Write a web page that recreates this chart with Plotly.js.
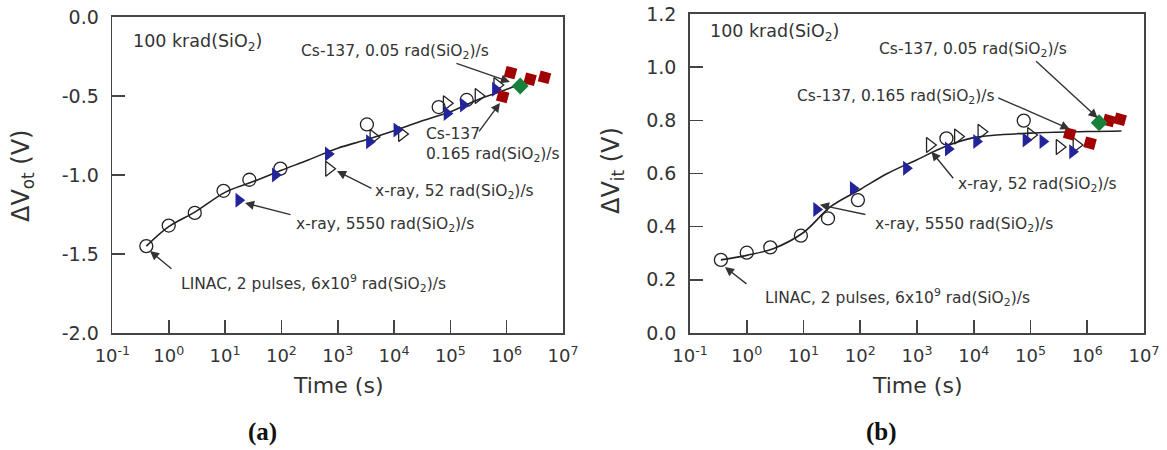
<!DOCTYPE html>
<html>
<head>
<meta charset="utf-8">
<script src="https://cdn.plot.ly/plotly-3.0.1.min.js"></script>
<style>html,body{margin:0;padding:0;background:#fff}#chart{width:1167px;height:450px}</style>
</head>
<body>
<div id="chart"></div>
<script>
// ---------- tick labels ----------
const xTickVals = [0.1, 1, 10, 100, 1000, 1e4, 1e5, 1e6, 1e7];
const xTickText = ['10<sup>-1</sup>','10<sup>0</sup>','10<sup>1</sup>','10<sup>2</sup>','10<sup>3</sup>','10<sup>4</sup>','10<sup>5</sup>','10<sup>6</sup>','10<sup>7</sup>'];
const yTickValsA = [-2, -1.5, -1, -0.5, 0];
const yTickTextA = ['-2.0', '-1.5', '-1.0', '-0.5', '0.0'];
const yTickValsB = [0, 0.2, 0.4, 0.6, 0.8, 1.0, 1.2];
const yTickTextB = ['0.0', '0.2', '0.4', '0.6', '0.8', '1.0', '1.2'];

// ---------- panel (a): ΔVot ----------
const tLinacA = [0.4, 1.0, 2.9, 9.4, 27, 96, 3300, 62000, 195000];
const vLinacA = [-1.45, -1.32, -1.24, -1.10, -1.03, -0.96, -0.68, -0.57, -0.525];
const tX5550A = [17.5, 78, 680, 3650, 11200, 87000, 170000, 630000];
const vX5550A = [-1.16, -1.00, -0.867, -0.79, -0.715, -0.61, -0.557, -0.458];
const tX52A = [700, 4300, 13800, 86000, 316000, 680000];
const vX52A = [-0.96, -0.76, -0.74, -0.546, -0.50, -0.43];
const tCs165A = [8.5e5, 1.17e6, 2.6e6, 4.7e6];
const vCs165A = [-0.504, -0.352, -0.394, -0.382];
const tCs05A = [1.74e6];
const vCs05A = [-0.437];
const tFitA = [0.4, 1, 3, 10, 30, 100, 300, 1000, 3000, 1e4, 3e4, 1e5, 3e5, 1e6, 2.5e6];
const vFitA = [-1.45, -1.327, -1.232, -1.11, -1.045, -0.97, -0.905, -0.83, -0.78, -0.72, -0.66, -0.60, -0.525, -0.458, -0.40];

// ---------- panel (b): ΔVit ----------
const tLinacB = [0.35, 1, 2.6, 9, 27, 91, 3300, 76000];
const vLinacB = [0.275, 0.302, 0.322, 0.366, 0.431, 0.50, 0.732, 0.799];
const tX5550B = [17, 75, 650, 3550, 11200, 83000, 165000, 550000];
const vX5550B = [0.465, 0.544, 0.62, 0.692, 0.72, 0.726, 0.72, 0.682];
const tX52B = [1680, 5250, 13600, 102000, 325000, 645000];
const vX52B = [0.707, 0.739, 0.757, 0.745, 0.70, 0.707];
const tCs165B = [4.9e5, 1.12e6, 2.4e6, 3.8e6];
const vCs165B = [0.749, 0.714, 0.799, 0.804];
const tCs05B = [1.62e6];
const vCs05B = [0.791];
const tFitB = [0.35, 1, 3, 10, 30, 100, 300, 1000, 3000, 1e4, 1e5, 1e6, 4e6];
const vFitB = [0.275, 0.292, 0.318, 0.378, 0.475, 0.54, 0.60, 0.652, 0.70, 0.735, 0.752, 0.758, 0.76];

// ---------- styles ----------
const W = 1167, H = 450;
const FONT = 'DejaVu Sans';
const TXT = '#333';
const BLUE = '#23239a', RED = '#a00000', GREEN = '#17803a', INK = '#222';

function panel(xa, ya, s) {
  return [
    {x: s.tFit, y: s.vFit, xaxis: xa, yaxis: ya, mode: 'lines', type: 'scatter',
     line: {color: INK, width: 1.6, shape: 'spline', smoothing: 1}, hoverinfo: 'skip'},
    {x: s.tLinac, y: s.vLinac, xaxis: xa, yaxis: ya, mode: 'markers', type: 'scatter',
     marker: {symbol: 'circle-open', size: 13, color: INK, line: {width: 1.3}}},
    {x: s.tX52, y: s.vX52, xaxis: xa, yaxis: ya, mode: 'markers', type: 'scatter',
     marker: {symbol: 'triangle-right-open', size: 13, color: INK, line: {width: 1.3}}},
    {x: s.tX5550, y: s.vX5550, xaxis: xa, yaxis: ya, mode: 'markers', type: 'scatter',
     marker: {symbol: 'triangle-right', size: 13, color: BLUE, line: {width: 0}}},
    {x: s.tCs165, y: s.vCs165, xaxis: xa, yaxis: ya, mode: 'markers', type: 'scatter',
     marker: {symbol: 'square', size: 11, color: RED, angle: 15, line: {width: 0}}},
    {x: s.tCs05, y: s.vCs05, xaxis: xa, yaxis: ya, mode: 'markers', type: 'scatter',
     marker: {symbol: 'diamond', size: 13, color: GREEN, line: {width: 0}}}
  ];
}

const data = [].concat(
  panel('x', 'y', {tFit: tFitA, vFit: vFitA, tLinac: tLinacA, vLinac: vLinacA, tX52: tX52A, vX52: vX52A,
    tX5550: tX5550A, vX5550: vX5550A, tCs165: tCs165A, vCs165: vCs165A, tCs05: tCs05A, vCs05: vCs05A}),
  panel('x2', 'y2', {tFit: tFitB, vFit: vFitB, tLinac: tLinacB, vLinac: vLinacB, tX52: tX52B, vX52: vX52B,
    tX5550: tX5550B, vX5550: vX5550B, tCs165: tCs165B, vCs165: vCs165B, tCs05: tCs05B, vCs05: vCs05B})
);

function xAxis(domain, anchor) {
  return {type: 'log', domain: domain, anchor: anchor, range: [-1, 7],
    tickmode: 'array', tickvals: xTickVals, ticktext: xTickText,
    ticks: 'inside', ticklen: 13, tickwidth: 1.6, tickcolor: '#444',
    showline: true, mirror: true, linecolor: '#444', linewidth: 1.8,
    showgrid: false, zeroline: false, ticklabelstandoff: 6,
    tickfont: {family: FONT, size: 18, color: TXT}};
}
function yAxis(domain, anchor, range, vals, text) {
  return {domain: domain, anchor: anchor, range: range,
    tickmode: 'array', tickvals: vals, ticktext: text,
    ticks: 'inside', ticklen: 13, tickwidth: 1.6, tickcolor: '#444',
    showline: true, mirror: true, linecolor: '#444', linewidth: 1.8,
    showgrid: false, zeroline: false, ticklabelstandoff: 8,
    tickfont: {family: FONT, size: 19, color: TXT}};
}

// helpers: pixel -> paper
const px = v => v / W, py = v => 1 - v / H;
const sio2 = 'rad(SiO<sub>2</sub>)/s';

function label(text, x, y, size, extra) {
  return Object.assign({text: text, xref: 'paper', yref: 'paper', x: px(x), y: py(y),
    xanchor: 'left', yanchor: 'middle', showarrow: false, align: 'left',
    font: {family: FONT, size: size, color: TXT}}, extra || {});
}
function arrow(xa, ya, lx, v, ax, ay) {
  return {text: '', xref: xa, yref: ya, x: lx, y: v, ax: ax, ay: ay, showarrow: true,
    arrowhead: 2, arrowsize: 1.3, arrowwidth: 1.4, arrowcolor: '#333', standoff: 0};
}

const annotations = [
  // panel (a) texts
  label('100 krad(SiO<sub>2</sub>)', 131, 42, 17.5),
  label('Cs-137, 0.05 ' + sio2, 299, 52, 15.5),
  label('Cs-137<br>0.165 ' + sio2, 424, 145, 15.5),
  label('x-ray, 52 ' + sio2, 373, 192, 15.5),
  label('x-ray, 5550 ' + sio2, 294, 225, 15.5),
  label('LINAC, 2 pulses, 6x10<sup>9</sup> ' + sio2, 179, 283, 15.5),
  // panel (a) arrows
  arrow('x', 'y', 6.058, -0.411, -55, -19),
  arrow('x', 'y', 5.881, -0.544, -22, 30),
  arrow('x', 'y', 2.987, -0.975, 36, 18),
  arrow('x', 'y', 1.354, -1.177, 47, 12),
  arrow('x', 'y', -0.333, -1.481, 23, 19),
  // panel (b) texts
  label('100 krad(SiO<sub>2</sub>)', 708, 32, 17.5),
  label('Cs-137, 0.05 ' + sio2, 877, 50, 15.5),
  label('Cs-137, 0.165 ' + sio2, 795, 97, 15.5),
  label('x-ray, 52 ' + sio2, 956, 185, 15.5),
  label('x-ray, 5550 ' + sio2, 873, 225, 15.5),
  label('LINAC, 2 pulses, 6x10<sup>9</sup> ' + sio2, 763, 297, 15.5),
  // panel (b) arrows
  arrow('x2', 'y2', 6.183, 0.809, -63, -58),
  arrow('x2', 'y2', 5.69, 0.767, -73, -32),
  arrow('x2', 'y2', 3.255, 0.682, 23, 28),
  arrow('x2', 'y2', 1.289, 0.482, 47, 10),
  arrow('x2', 'y2', -0.384, 0.248, 23, 18),
  // axis titles
  label('Time (s)', 337.7, 385, 22, {xanchor: 'center'}),
  label('Time (s)', 917, 385, 22, {xanchor: 'center'}),
  label('ΔV<sub>ot</sub> (V)', 22, 176, 24, {xanchor: 'center', textangle: -90}),
  label('ΔV<sub>it</sub> (V)', 612, 171, 24, {xanchor: 'center', textangle: -90}),
  // panel labels
  label('<b>(a)</b>', 262, 432, 25, {xanchor: 'center', font: {family: 'Liberation Serif', size: 25, color: '#111'}}),
  label('<b>(b)</b>', 881, 432, 25, {xanchor: 'center', font: {family: 'Liberation Serif', size: 25, color: '#111'}})
];

const layout = {
  width: W, height: H,
  margin: {l: 0, r: 0, t: 0, b: 0},
  paper_bgcolor: '#fff', plot_bgcolor: '#fff',
  showlegend: false,
  font: {family: FONT, color: TXT},
  xaxis: xAxis([112.4 / W, 563 / W], 'y'),
  yaxis: yAxis([(H - 333) / H, (H - 17) / H], 'x', [-2, 0], yTickValsA, yTickTextA),
  xaxis2: xAxis([690 / W, 1144 / W], 'y2'),
  yaxis2: yAxis([(H - 333) / H, (H - 14) / H], 'x2', [0, 1.2], yTickValsB, yTickTextB),
  annotations: annotations
};

Plotly.newPlot('chart', data, layout, {staticPlot: true});
</script>
</body>
</html>
